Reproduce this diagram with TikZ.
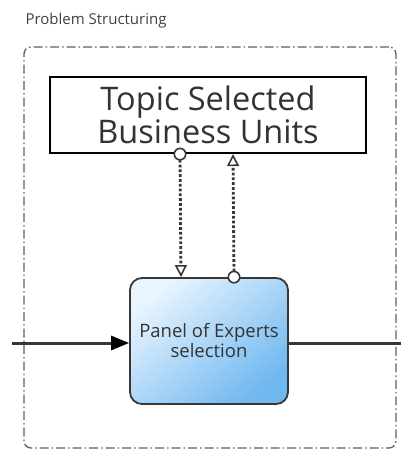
\documentclass[tikz,border=0pt]{standalone}
\usepackage{fontspec}
\setmainfont{Open Sans}
\usetikzlibrary{arrows.meta,positioning,calc}

\definecolor{panelTop}{RGB}{232,244,254}
\definecolor{panelBot}{RGB}{112,184,240}
\definecolor{lineGray}{RGB}{55,55,55}

\begin{document}
\begin{tikzpicture}[x=1pt, y=-1pt,
  frame/.style={rectangle, draw=gray!75!black, line width=1.3pt,
    dash pattern=on 9pt off 3pt on 1.5pt off 3pt,
    rounded corners=7pt, minimum width=372pt, minimum height=401pt},
  title/.style={font=\fontsize{15}{17}\selectfont, text=black!75, inner sep=1pt},
  topic/.style={rectangle, draw, line width=2.2pt, fill=white,
    minimum width=316pt, minimum height=76pt, align=center,
    font=\fontsize{32.5}{30}\selectfont, text=black!80},
  task/.style={rectangle, draw=lineGray, line width=1.8pt, rounded corners=12pt,
    top color=panelTop, bottom color=panelBot, shading angle=40,
    minimum width=158pt, minimum height=126pt, align=center,
    font=\fontsize{18.5}{20}\selectfont, text=black!80},
  info/.style={dotted, line width=2.8pt, lineGray,
    {Circle[open, length=13pt, width=13pt, fill=white, line width=1.6pt]}-{Triangle[open, length=12pt, width=12pt, line width=1.6pt]}},
  flow/.style={line width=3pt, lineGray},
]
\useasboundingbox (0,0) rectangle (401,466);

% process scope
\node[frame] (scope) at (210,247.5) {};
\node[title, above right=17pt and 1pt of scope.north west] (ttl) {Problem Structuring};

% resource and task
\node[topic] (units) at (208,115) {Topic Selected\\Business Units};
\node[task] (panel) at (209,341) {Panel of Experts\\selection};

% information links
\draw[info, shorten <=-6.5pt] ($(units.south)+(-28pt,0)$) -- ($(panel.north)+(-28pt,0)$);
\draw[info, shorten <=-6.5pt] ($(panel.north)+(25pt,0)$) -- ($(units.south)+(25pt,0)$);

% control flow
\coordinate (inL) at (12,343);
\coordinate (outR) at (401,343);
\draw[flow, -{Triangle[length=18pt, width=14pt, black]}] (inL) -- (inL -| panel.west);
\draw[flow] (outR -| panel.east) -- (outR);
\end{tikzpicture}
\end{document}
